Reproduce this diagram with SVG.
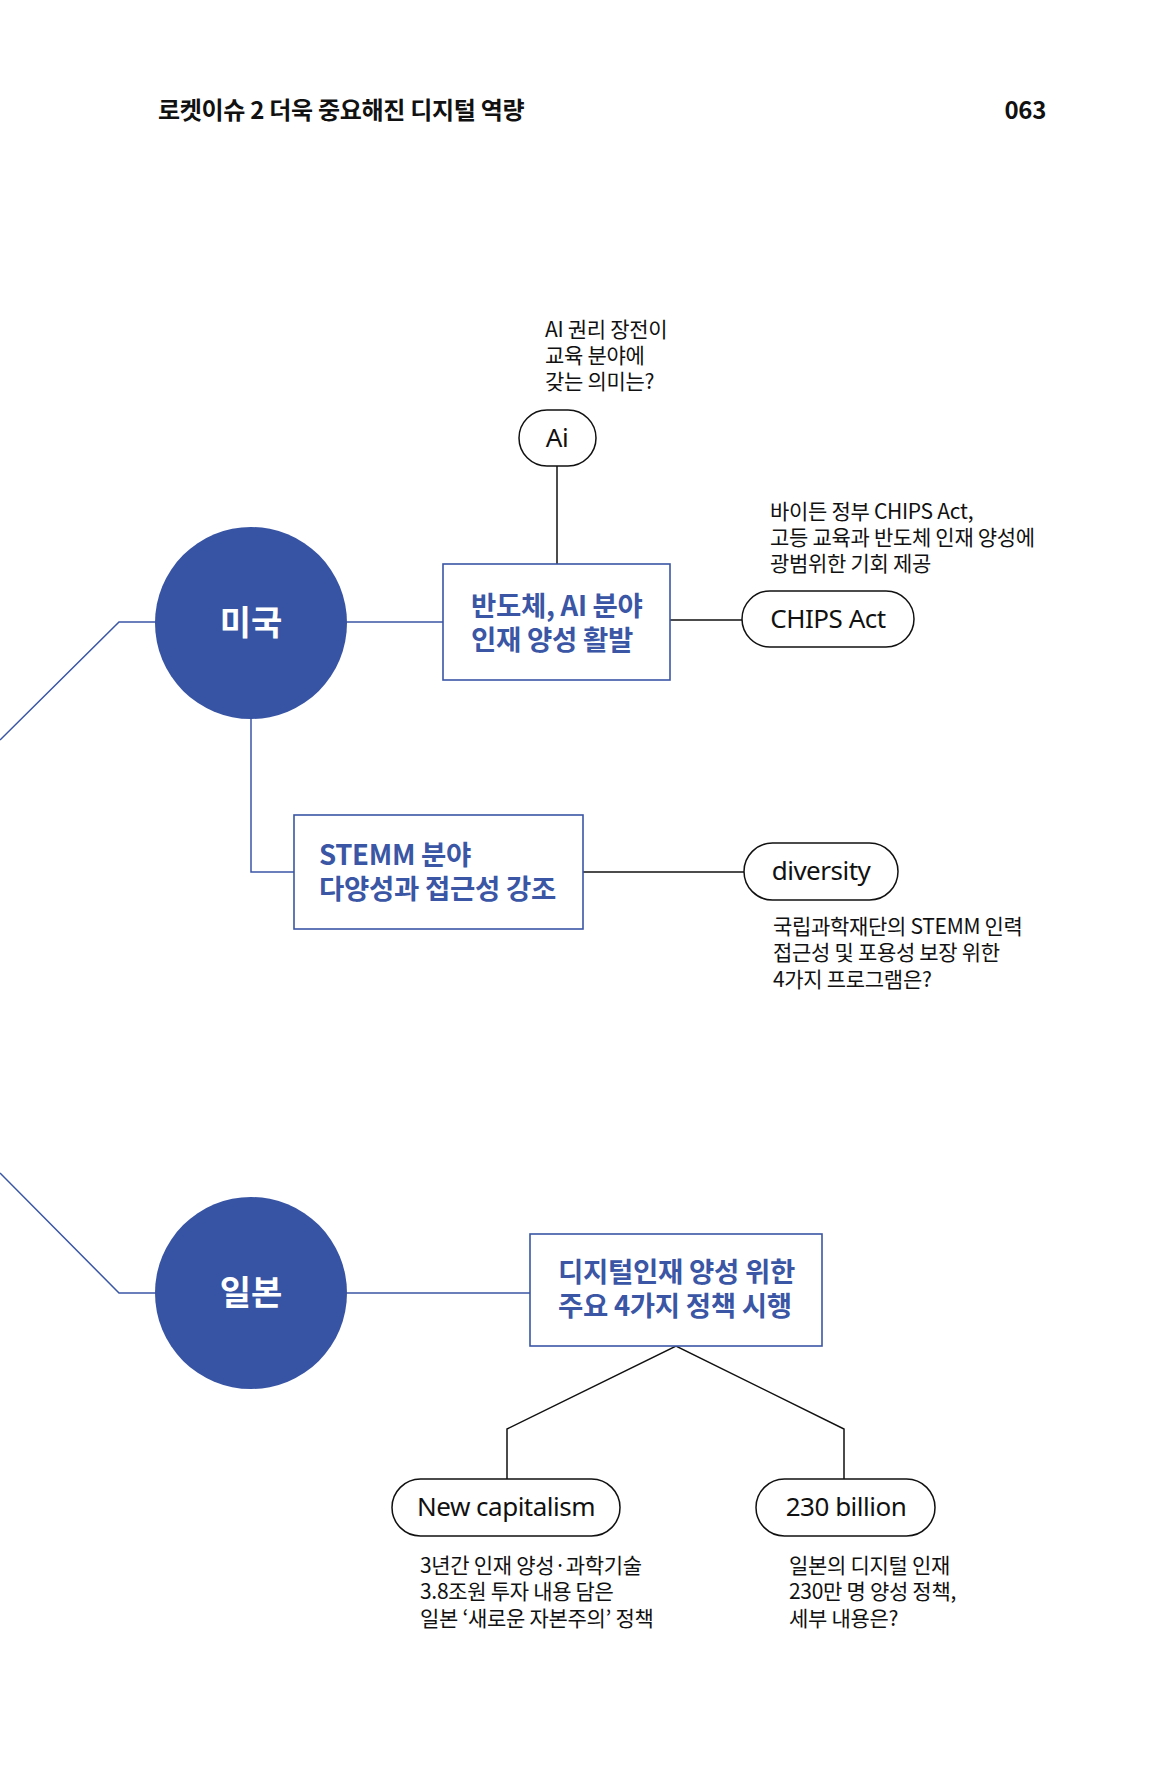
<svg xmlns="http://www.w3.org/2000/svg" width="1165" height="1771" viewBox="0 0 1165 1771">
<style>
.hdr{font-family:"Noto Sans CJK KR","Noto Sans",sans-serif;font-weight:700;font-size:24px;fill:#111;letter-spacing:-0.3px}
.note{font-family:"Noto Sans CJK KR","Noto Sans",sans-serif;font-size:21px;fill:#111;letter-spacing:-0.3px}
.pill{fill:#fff;stroke:#111;stroke-width:1.5}
.pt{font-family:"Noto Sans","Noto Sans CJK KR",sans-serif;font-size:26px;fill:#111;text-anchor:middle;letter-spacing:-0.5px}
.box{fill:#fff;stroke:#3a56a5;stroke-width:1.6}
.bt{font-family:"Noto Sans CJK KR","Noto Sans",sans-serif;font-weight:700;font-size:27.5px;fill:#3a56a5;letter-spacing:-0.3px}
.circ{fill:#3753a3}
.ct{font-family:"Noto Sans CJK KR","Noto Sans",sans-serif;font-weight:700;font-size:34px;fill:#fff;text-anchor:middle}
.bl{fill:none;stroke:#3a56a5;stroke-width:1.5}
.kl{fill:none;stroke:#111;stroke-width:1.5}
</style>
<rect width="1165" height="1771" fill="#fff"/>
<text class="hdr" x="158" y="119">로켓이슈 2 더욱 중요해진 디지털 역량</text>
<text class="hdr" x="1046" y="119" text-anchor="end">063</text>

<g id="connectors">
<polyline class="bl" points="0,740 119,622 160,622"/>
<line class="bl" x1="345" y1="622" x2="443" y2="622"/>
<line class="kl" x1="557" y1="466" x2="557" y2="564"/>
<line class="kl" x1="670" y1="620" x2="742" y2="620"/>
<polyline class="bl" points="251,718 251,872 294,872"/>
<line class="kl" x1="583" y1="872" x2="744" y2="872"/>
<polyline class="bl" points="0,1173 119,1293 160,1293"/>
<line class="bl" x1="345" y1="1293" x2="530" y2="1293"/>
<polyline class="kl" points="507,1479 507,1429 676,1346 844,1429 844,1479"/>
</g>

<g id="node-usa">
<circle class="circ" cx="251" cy="623" r="96"/>
<text class="ct" x="251" y="635">미국</text>
</g>
<g id="node-box1">
<rect class="box" x="443" y="564" width="227" height="116"/>
<text class="bt" x="471" y="616">반도체, AI 분야</text>
<text class="bt" x="471" y="650">인재 양성 활발</text>
</g>
<g id="node-ai">
<rect class="pill" x="519" y="410" width="77" height="56" rx="28"/>
<text class="pt" x="557" y="447">Ai</text>
<text class="note" x="545" y="337">AI 권리 장전이</text>
<text class="note" x="545" y="363">교육 분야에</text>
<text class="note" x="545" y="389">갖는 의미는?</text>
</g>
<g id="node-chips">
<rect class="pill" x="742" y="591" width="172" height="56" rx="28"/>
<text class="pt" x="828" y="628">CHIPS Act</text>
<text class="note" x="770" y="519">바이든 정부 CHIPS Act,</text>
<text class="note" x="770" y="545">고등 교육과 반도체 인재 양성에</text>
<text class="note" x="770" y="571">광범위한 기회 제공</text>
</g>
<g id="node-box2">
<rect class="box" x="294" y="815" width="289" height="114"/>
<text class="bt" x="319" y="865">STEMM 분야</text>
<text class="bt" x="319" y="899">다양성과 접근성 강조</text>
</g>
<g id="node-diversity">
<rect class="pill" x="744" y="843" width="154" height="57" rx="28.5"/>
<text class="pt" x="821" y="880">diversity</text>
<text class="note" x="773" y="934">국립과학재단의 STEMM 인력</text>
<text class="note" x="773" y="960">접근성 및 포용성 보장 위한</text>
<text class="note" x="773" y="987">4가지 프로그램은?</text>
</g>
<g id="node-japan">
<circle class="circ" cx="251" cy="1293" r="96"/>
<text class="ct" x="251" y="1305">일본</text>
</g>
<g id="node-box3">
<rect class="box" x="530" y="1234" width="292" height="112"/>
<text class="bt" x="558" y="1282">디지털인재 양성 위한</text>
<text class="bt" x="558" y="1316">주요 4가지 정책 시행</text>
</g>
<g id="node-newcap">
<rect class="pill" x="392" y="1479" width="228" height="57" rx="28.5"/>
<text class="pt" x="506" y="1516">New capitalism</text>
<text class="note" x="420" y="1573">3년간 인재 양성·과학기술</text>
<text class="note" x="420" y="1599">3.8조원 투자 내용 담은</text>
<text class="note" x="420" y="1626">일본 ‘새로운 자본주의’ 정책</text>
</g>
<g id="node-230b">
<rect class="pill" x="756" y="1479" width="179" height="57" rx="28.5"/>
<text class="pt" x="846" y="1516">230 billion</text>
<text class="note" x="789" y="1573">일본의 디지털 인재</text>
<text class="note" x="789" y="1599">230만 명 양성 정책,</text>
<text class="note" x="789" y="1626">세부 내용은?</text>
</g>
</svg>
